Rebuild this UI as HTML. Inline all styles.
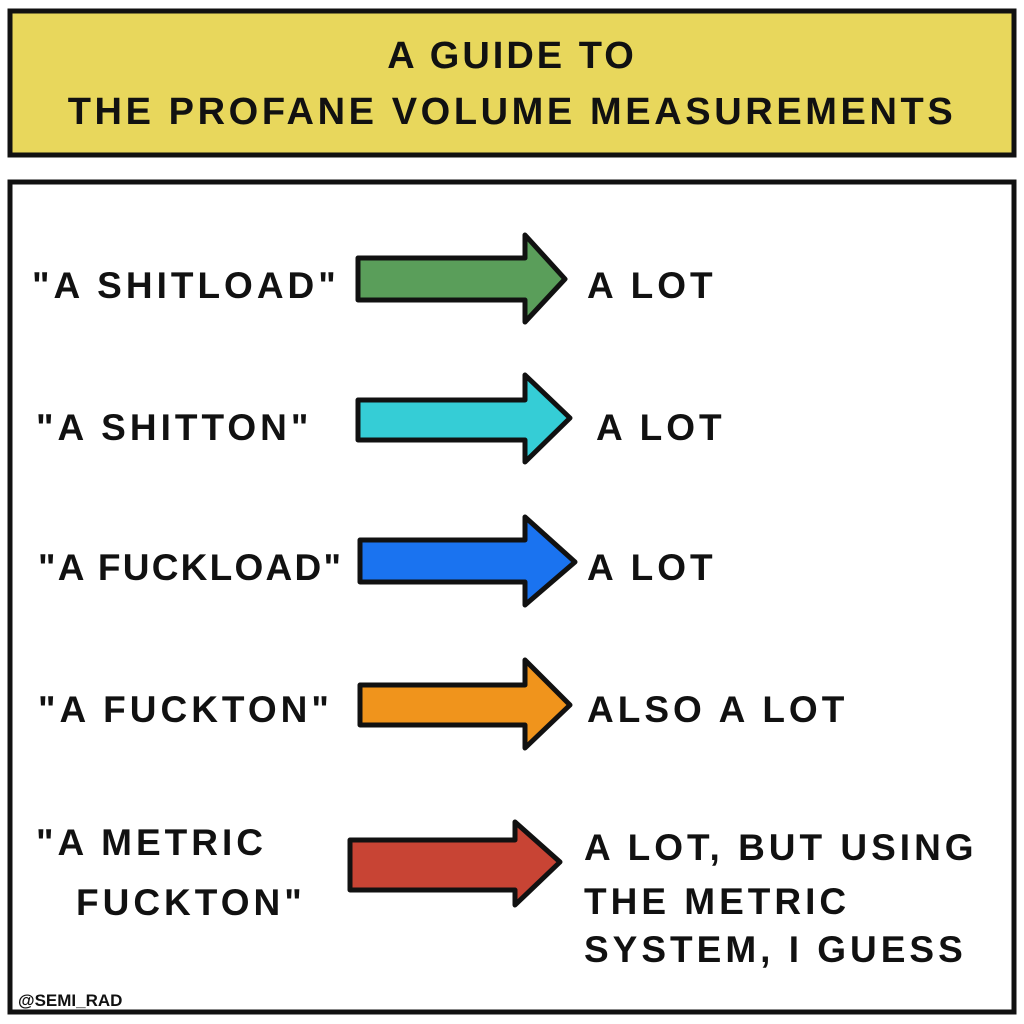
<!DOCTYPE html>
<html><head><meta charset="utf-8"><style>
html,body{margin:0;padding:0;background:#fff;}
svg{display:block}
text{font-family:"Liberation Sans",sans-serif;font-weight:bold;fill:#111;}
</style></head><body>
<svg width="1024" height="1024" viewBox="0 0 1024 1024">
<rect x="0" y="0" width="1024" height="1024" fill="#fff"/>
<rect x="10" y="11" width="1004" height="144" fill="#e8d75c" stroke="#111" stroke-width="5"/>
<text x="512" y="68" font-size="38" text-anchor="middle" letter-spacing="3">A GUIDE TO</text>
<text x="512" y="124" font-size="38" text-anchor="middle" letter-spacing="3.6">THE  PROFANE  VOLUME  MEASUREMENTS</text>
<rect x="10" y="182" width="1004" height="830" fill="#fff" stroke="#111" stroke-width="5"/>
<g stroke="#111" stroke-width="5" stroke-linejoin="round">
<polygon points="358,258 525,258 525,235 565,279 525,322 525,300 358,300" fill="#5a9e5a"/>
<polygon points="358,400 525,400 525,375 570,418 525,462 525,440 358,440" fill="#35cdd6"/>
<polygon points="360,540 525,540 525,517 575,562 525,605 525,582 360,582" fill="#1a73f0"/>
<polygon points="360,685 525,685 525,660 570,705 525,748 525,725 360,725" fill="#f0941c"/>
<polygon points="350,840 515,840 515,822 560,862 515,905 515,890 350,890" fill="#c84434"/>
</g>
<g font-size="37" letter-spacing="4">
<text x="32" y="298">"A SHITLOAD"</text>
<text x="36" y="440">"A SHITTON"</text>
<text x="38" y="580" letter-spacing="0" textLength="303" lengthAdjust="spacing">"A FUCKLOAD"</text>
<text x="38" y="722">"A FUCKTON"</text>
<text x="36" y="855">"A METRIC</text>
<text x="76" y="915">FUCKTON"</text>
<text x="587" y="298">A LOT</text>
<text x="596" y="440">A LOT</text>
<text x="587" y="580">A LOT</text>
<text x="587" y="722">ALSO A LOT</text>
<text x="584" y="860">A LOT, BUT USING</text>
<text x="584" y="914">THE METRIC</text>
<text x="584" y="962">SYSTEM, I GUESS</text>
</g>
<text x="18" y="1006" font-size="17">@SEMI_RAD</text>
</svg>
</body></html>
